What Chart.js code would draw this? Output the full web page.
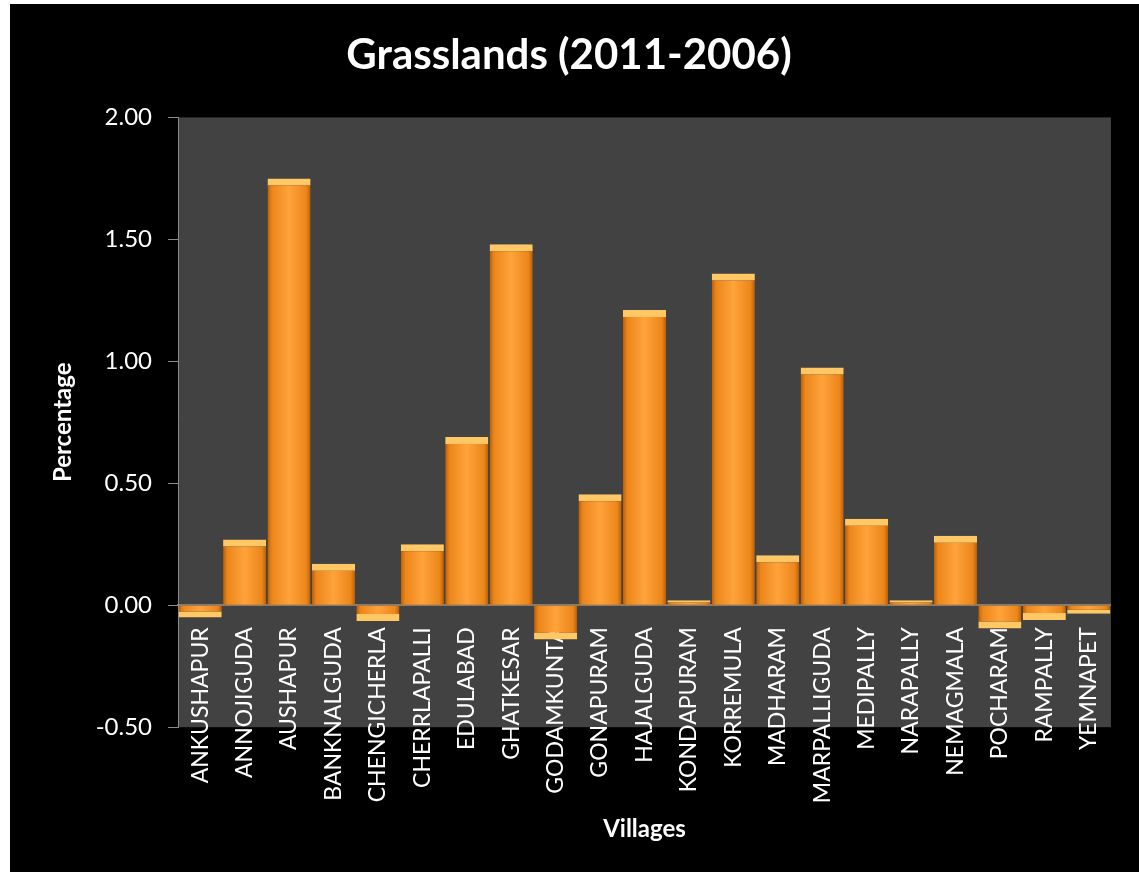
<!DOCTYPE html>
<html>
<head>
<meta charset="utf-8">
<script src="https://cdn.jsdelivr.net/npm/chart.js@4.4.1/dist/chart.umd.min.js"></script>
<style>
    html, body { margin: 0; padding: 0; background: #fff; }
    #wrap { position: absolute; left: 10px; top: 4px; width: 1129px; height: 868px; background: #000; }
</style>
</head>
<body>
<div id="wrap"><canvas id="grassChart"></canvas></div>
<script>
const villages = [
    'ANKUSHAPUR', 'ANNOJIGUDA', 'AUSHAPUR', 'BANKNALGUDA', 'CHENGICHERLA',
    'CHERRLAPALLI', 'EDULABAD', 'GHATKESAR', 'GODAMKUNTA', 'GONAPURAM',
    'HAJALGUDA', 'KONDAPURAM', 'KORREMULA', 'MADHARAM', 'MARPALLIGUDA',
    'MEDIPALLY', 'NARAPALLY', 'NEMAGMALA', 'POCHARAM', 'RAMPALLY', 'YEMNAPET'
];
const grassChange = [
    -0.05, 0.27, 1.75, 0.17, -0.065,
    0.25, 0.69, 1.48, -0.14, 0.455,
    1.21, 0.02, 1.36, 0.205, 0.975,
    0.355, 0.02, 0.285, -0.095, -0.06, -0.035
];
const yMin = -0.5;
const yMax = 2.0;
const yStep = 0.5;

const FONT = "Lato, 'Open Sans', sans-serif";
const BAR_PCT = 0.97;

// grey plot area behind the bars
const plotBg = {
    id: 'plotBg',
    beforeDraw(chart) {
        const { ctx, chartArea: a } = chart;
        ctx.save();
        ctx.fillStyle = '#424242';
        ctx.fillRect(a.left, a.top, a.width, a.height);
        ctx.restore();
    }
};

// horizontal shading across each bar
function barFill(context) {
    const chart = context.chart;
    const xs = chart.scales.x;
    if (!chart.chartArea || !xs) return '#f7931e';
    const cx = xs.getPixelForValue(context.dataIndex);
    const half = xs.width / villages.length * BAR_PCT / 2;
    const g = chart.ctx.createLinearGradient(cx - half, 0, cx + half, 0);
    g.addColorStop(0, '#b95f08');
    g.addColorStop(0.1, '#ec861a');
    g.addColorStop(0.5, '#ffa33b');
    g.addColorStop(0.9, '#ec861a');
    g.addColorStop(1, '#b95f08');
    return g;
}

const ctx = document.getElementById('grassChart').getContext('2d');
const grassChart = new Chart(ctx, {
    type: 'bar',
    data: {
        labels: villages,
        datasets: [{
            label: 'Grasslands',
            data: grassChange,
            backgroundColor: barFill,
            borderColor: '#ffc865',
            borderWidth: (c) => {
                const v = c.raw;
                return v >= 0 ? { top: 7, left: 0, right: 0, bottom: 0 } : { top: 0, left: 0, right: 0, bottom: 7 };
            },
            borderSkipped: false,
            barPercentage: BAR_PCT,
            categoryPercentage: 1
        }]
    },
    options: {
        responsive: true,
        maintainAspectRatio: false,
        animation: false,
        layout: { padding: { left: 0, right: 11, top: 0, bottom: 0 } },
        plugins: {
            legend: { display: false },
            tooltip: { enabled: false },
            title: {
                display: true,
                text: 'Grasslands (2011-2006)',
                color: '#ffffff',
                font: { family: FONT, size: 42, weight: 'bold' },
                padding: { top: 26, bottom: 37 }
            },
            subtitle: {
                display: true,
                position: 'bottom',
                fullSize: false,
                text: 'Villages',
                color: '#ffffff',
                font: { family: FONT, size: 24, weight: 'bold' },
                padding: { top: 88, bottom: 28 }
            }
        },
        scales: {
            x: {
                position: { y: 0 },
                grid: { display: false, drawTicks: false },
                border: { display: true, color: '#8f7b64', width: 2 },
                ticks: {
                    color: '#ffffff',
                    font: { family: FONT, size: 23 },
                    autoSkip: false,
                    minRotation: 90,
                    maxRotation: 90,
                    padding: 22
                },
                afterFit(scale) { scale.height = 0; }
            },
            y: {
                min: yMin,
                max: yMax,
                grid: { drawOnChartArea: false, drawTicks: true, tickLength: 10, color: '#8a8a8a' },
                border: { display: true, color: '#8a8a8a' },
                ticks: {
                    stepSize: yStep,
                    color: '#ffffff',
                    font: { family: FONT, size: 24 },
                    padding: 16,
                    callback: (v) => v.toFixed(2)
                },
                title: {
                    display: true,
                    text: 'Percentage',
                    color: '#ffffff',
                    font: { family: FONT, size: 24, weight: 'bold' },
                    padding: { top: 39, bottom: 0 }
                },
                afterFit(scale) { scale.width = 168; }
            }
        }
    },
    plugins: [plotBg]
});
</script>
</body>
</html>
